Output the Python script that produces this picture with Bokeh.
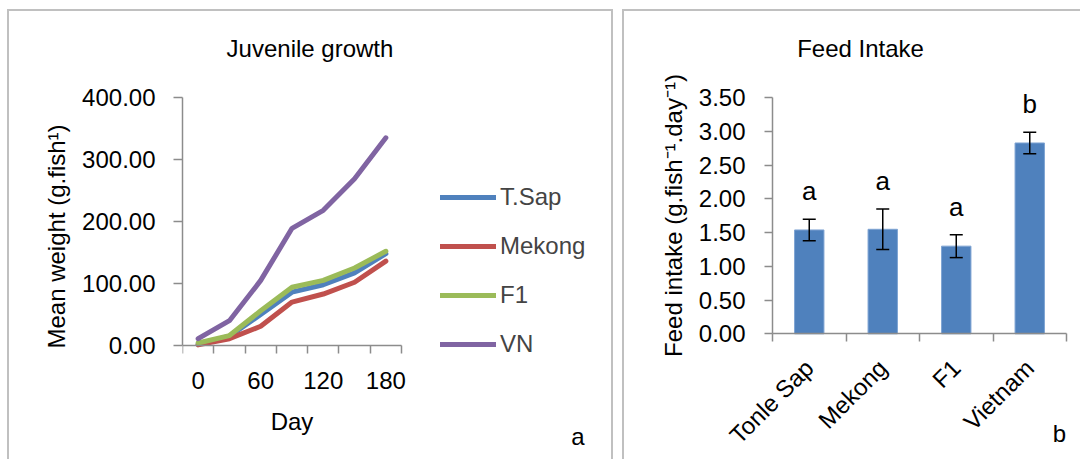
from math import pi
from bokeh.plotting import figure
from bokeh.layouts import row
from bokeh.models import (Range1d, FixedTicker, NumeralTickFormatter, Legend, LegendItem,
                          Whisker, ColumnDataSource, TeeHead, Label)
from bokeh.core.properties import value
from bokeh.embed import file_html
from bokeh.resources import INLINE

FONT = "'Liberation Sans', Arial, sans-serif"
FS = "24px"
AXIS = "#8c8c8c"
BORDER = "2px solid #c0c0c0"

# ---- data: juvenile growth ----
days = [0, 30, 60, 90, 120, 150, 180]
tsap = [2, 15, 50, 86, 98, 117, 148]
mekong = [1, 11, 31, 70, 83, 102, 136]
f1 = [4, 16, 56, 94, 105, 125, 152]
vn = [11, 40, 105, 189, 218, 269, 335]
series_names = ["T.Sap", "Mekong", "F1", "VN"]
series_colors = ["#4F81BD", "#C0504D", "#9BBB59", "#8064A2"]
day_ticks = [0, 60, 120, 180]
weight_ticks = [0, 100, 200, 300, 400]

# ---- data: feed intake ----
strains = ["Tonle Sap", "Mekong", "F1", "Vietnam"]
intake = [1.54, 1.55, 1.30, 2.83]
intake_se = [0.16, 0.30, 0.17, 0.16]
letters = ["a", "a", "a", "b"]
intake_ticks = [0, 0.5, 1.0, 1.5, 2.0, 2.5, 3.0, 3.5]


class Map:
    """Linear pixel <-> data mapping given two anchors (layout helper)."""
    def __init__(self, px0, v0, px1, v1):
        self.px0, self.v0 = px0, v0
        self.k = (v1 - v0) / (px1 - px0)

    def __call__(self, px):
        return self.v0 + (px - self.px0) * self.k


def style_axes(p):
    for ax in (p.xaxis[0], p.yaxis[0]):
        ax.axis_line_color = AXIS
        ax.axis_line_width = 1.5
        ax.major_tick_line_color = AXIS
        ax.major_tick_line_width = 1.5
        ax.minor_tick_line_color = AXIS
        ax.minor_tick_line_width = 1.5
        ax.major_label_text_font = FONT
        ax.major_label_text_font_size = FS
        ax.major_label_text_color = "black"
        ax.axis_label_text_font = FONT
        ax.axis_label_text_font_size = FS
        ax.axis_label_text_font_style = "normal"
        ax.axis_label_text_color = "black"
    p.xgrid.visible = False
    p.ygrid.visible = False
    p.outline_line_color = None
    p.frame_align = False


def tag(p, text, x, y, align="center"):
    p.add_layout(Label(x=x, y=y, text=text, text_align=align, text_baseline="alphabetic",
                       text_font=FONT, text_font_size=FS, text_color="black"))


# ================= left panel =================
# canvas spans x 9..615, y 11..461 ; plot area x 182..615, y 11..461
X1 = Map(182, days[0] - 15, 401, days[-1] + 15)      # axis spans half a step past ends
Y1 = Map(345, weight_ticks[0], 97, weight_ticks[-1])

p1 = figure(width=606, height=450,
            x_range=Range1d(X1(182), X1(615)), y_range=Range1d(Y1(461), Y1(11)),
            output_backend="svg", toolbar_location=None, title=None,
            min_border_left=173, min_border_right=0, min_border_top=0, min_border_bottom=0)
style_axes(p1)

half = (days[1] - days[0]) / 2
p1.xaxis.fixed_location = 0
p1.xaxis.bounds = (days[0] - half, days[-1] + half)
p1.xaxis.ticker = FixedTicker(ticks=day_ticks,
                              minor_ticks=[d - half for d in days] + [days[-1] + half])
p1.xaxis.major_tick_out = 0
p1.xaxis.major_tick_in = 0
p1.xaxis.minor_tick_out = 8
p1.xaxis.minor_tick_in = 0
p1.xaxis.major_label_standoff = 18
p1.xaxis.axis_label = "Day"
p1.xaxis.axis_label_standoff = 16

p1.yaxis.bounds = (weight_ticks[0], weight_ticks[-1])
p1.yaxis.ticker = FixedTicker(ticks=weight_ticks)
p1.yaxis.formatter = NumeralTickFormatter(format="0.00")
p1.yaxis.major_tick_out = 9
p1.yaxis.major_tick_in = 0
p1.yaxis.minor_tick_line_color = None
p1.yaxis.major_label_standoff = 18
p1.yaxis.axis_label = "Mean weight (g.fish\u00b9)"
p1.yaxis.axis_label_standoff = 9

items = []
for name, vals, col in zip(series_names, [tsap, mekong, f1, vn], series_colors):
    r = p1.line(days, vals, line_width=5, line_color=col, line_cap="round", line_join="round")
    items.append(LegendItem(label=name, renderers=[r]))

legend = Legend(items=items, location=(258, 99), glyph_width=56, glyph_height=36,
                label_height=36, label_standoff=4, spacing=13, padding=0, margin=0,
                border_line_color=None, background_fill_alpha=0,
                label_text_font=FONT, label_text_font_size=FS)
p1.add_layout(legend, "center")

tag(p1, "Juvenile growth", X1(309.5), Y1(48))
tag(p1, "a", X1(577.5), Y1(436))
p1.styles = {"border-top": BORDER, "border-left": BORDER, "border-right": BORDER}

# ================= right panel =================
# canvas spans x 624..1082, y 11..461 ; plot area is the whole canvas
X2 = Map(772, 0, 1066, len(strains))
Y2 = Map(333.3, intake_ticks[0], 97.3, intake_ticks[-1])

xs = [i + 0.5 for i in range(len(strains))]
src = ColumnDataSource(dict(
    x=xs, top=intake,
    upper=[m + s for m, s in zip(intake, intake_se)],
    lower=[m - s for m, s in zip(intake, intake_se)],
    letter=letters,
))

p2 = figure(width=458, height=450,
            x_range=Range1d(X2(624), X2(1082)), y_range=Range1d(Y2(461), Y2(11)),
            output_backend="svg", toolbar_location=None, title=None,
            min_border_left=0, min_border_right=0, min_border_top=0, min_border_bottom=0)
style_axes(p2)

p2.vbar(x="x", top="top", width=0.4, source=src, fill_color="#4F81BD",
        line_color="#7fa4d3", line_width=1)
p2.add_layout(Whisker(source=src, base="x", upper="upper", lower="lower", level="overlay",
                      line_color="black", line_width=1.5,
                      upper_head=TeeHead(size=13, line_color="black", line_width=1.5),
                      lower_head=TeeHead(size=13, line_color="black", line_width=1.5)))
p2.text(x="x", y="upper", text="letter", source=src, text_align="center",
        text_baseline="alphabetic", y_offset=-28, text_font=value(FONT),
        text_font_size="26px", text_color="black")

p2.xaxis.fixed_location = 0
p2.xaxis.bounds = (0, len(strains))
p2.xaxis.ticker = FixedTicker(ticks=xs, minor_ticks=list(range(len(strains) + 1)))
p2.xaxis.major_label_overrides = {x: s for x, s in zip(xs, strains)}
p2.xaxis.major_label_orientation = pi / 4
p2.xaxis.major_tick_out = 0
p2.xaxis.major_tick_in = 0
p2.xaxis.minor_tick_out = 8
p2.xaxis.minor_tick_in = 0
p2.xaxis.major_label_standoff = 22

p2.yaxis.fixed_location = 0
p2.yaxis.bounds = (intake_ticks[0], intake_ticks[-1])
p2.yaxis.ticker = FixedTicker(ticks=intake_ticks)
p2.yaxis.formatter = NumeralTickFormatter(format="0.00")
p2.yaxis.major_tick_out = 8
p2.yaxis.major_tick_in = 0
p2.yaxis.minor_tick_line_color = None
p2.yaxis.major_label_standoff = 19
p2.yaxis.axis_label = "Feed intake (g.fish\u207b\u00b9.day\u207b\u00b9)"
p2.yaxis.axis_label_standoff = 9

tag(p2, "Feed Intake", X2(860), Y2(48))
tag(p2, "b", X2(1059), Y2(433))
p2.styles = {"border-top": BORDER, "border-left": BORDER}

layout = row(p1, p2, spacing=9)
layout.margin = (9, 0, 0, 7)

open("out.html", "w").write(file_html(layout, INLINE))
